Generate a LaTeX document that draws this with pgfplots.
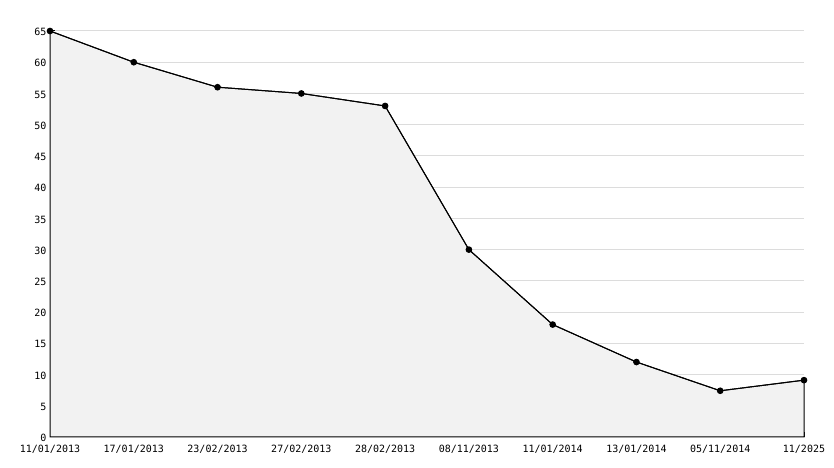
\documentclass[border=0pt]{standalone}
\usepackage{fontspec}
\setmainfont{DejaVu Sans Mono}
\setmonofont{DejaVu Sans Mono}
\usepackage{pgfplots}
\pgfplotsset{compat=1.18}
\definecolor{areafill}{HTML}{F2F2F2}
\definecolor{gridc}{HTML}{DCDCDC}
\begin{document}
\begin{tikzpicture}
\begin{axis}[
  scale only axis,
  width=754pt, height=406pt,
  xmin=0, xmax=9, ymin=0, ymax=65,
  axis lines*=left,
  axis line style={black, line width=1pt},
  xtick={0,1,2,3,4,5,6,7,8,9},
  xticklabels={11/01/2013,17/01/2013,23/02/2013,27/02/2013,28/02/2013,08/11/2013,11/01/2014,13/01/2014,05/11/2014,11/2025},
  ytick={0,5,...,65},
  minor y tick num=4,
  tick align=inside,
  major tick length=5pt,
  minor tick length=4pt,
  tick style={black, line width=1pt},
  ymajorgrids,
  major grid style={gridc, line width=1pt},
  tick label style={font=\fontsize{10}{12}\selectfont, black},
  /pgf/number format/assume math mode=true,
  xticklabel style={yshift=-5pt},
  yticklabel style={yshift=-1pt},
  clip=false,
]
\addplot[fill=areafill, draw=black, line width=1pt] coordinates {
(0,65) (1,60) (2,56) (3,55) (4,53) (5,30) (6,18) (7,12) (8,7.4) (9,9.1)
} \closedcycle;
\addplot[black, line width=1pt, mark=*, mark size=2.8pt] coordinates {
(0,65) (1,60) (2,56) (3,55) (4,53) (5,30) (6,18) (7,12) (8,7.4) (9,9.1)
};
\coordinate (sw) at (rel axis cs:0,0);
\coordinate (ne) at (rel axis cs:1,1);
\end{axis}
\pgfresetboundingbox
\path[use as bounding box] ([shift={(-50pt,-31pt)}]sw) rectangle ([shift={(30pt,31pt)}]ne);
\end{tikzpicture}
\end{document}
